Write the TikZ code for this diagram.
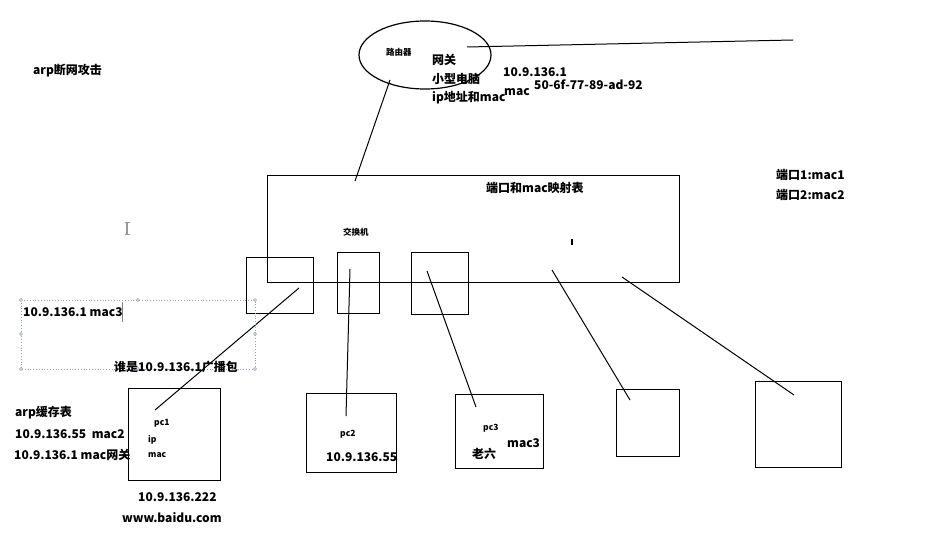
\documentclass[tikz,border=0pt]{standalone}
\usepackage{fontspec}
\setmainfont{Noto Sans CJK SC}
\usetikzlibrary{shapes.geometric}
\begin{document}
\begin{tikzpicture}[x=1pt,y=-1pt,
  box/.style={draw, line width=1.2pt, inner sep=0pt, anchor=north west},
  wire/.style={line width=1pt},
  lbl/.style={anchor=west, inner sep=0pt, font=\fontsize{12}{14}\selectfont\bfseries},
  sml/.style={anchor=west, inner sep=0pt, font=\fontsize{8.5}{10}\selectfont\bfseries},
  sel/.style={draw={rgb,255:red,140;green,165;blue,195}, dotted, line width=0.8pt},
  handle/.style={circle, draw={rgb,255:red,140;green,150;blue,170}, fill=white, line width=0.5pt, inner sep=0pt, minimum size=3pt}]
\useasboundingbox (0,0) rectangle (944,535);

% router
\node (router) [draw, ellipse, line width=1.2pt, minimum width=132pt, minimum height=68pt] at (425,55) {};
\node (rlbl) [sml] at (386,52) {路由器};
\coordinate (r1) at (467,47);
\coordinate (r2) at (793,40);
\draw[wire] (r1) -- (r2);
\node (gw1) [lbl] at (432,60) {网关};
\node (gw2) [lbl] at (432,79) {小型电脑};
\node (gw3) [lbl] at (432,98) {ip地址和mac};
\node (gwip) [lbl] at (503,72) {10.9.136.1};
\node (gwmac) [lbl] at (534,85) {50-6f-77-89-ad-92};
\node (gwm) [lbl] at (504,92) {mac};

\node (title) [lbl] at (33,71) {arp断网攻击};

% switch
\node (sw) [box, minimum width=412pt, minimum height=107pt] at (267,175) {};
\node (swt) [lbl] at (486,188) {端口和mac映射表};
\node (swl) [sml] at (343,232) {交换机};
\fill (571,239) rectangle (573,245);
\coordinate (ra) at (390,80);
\coordinate (sa) at (355,181);
\draw[wire] (ra) -- (sa);

\node (map1) [lbl] at (776,175) {端口1:mac1};
\node (map2) [lbl] at (776,195) {端口2:mac2};

% ports
\node (p1) [box, minimum width=67pt, minimum height=56pt] at (246,257) {};
\node (p2) [box, minimum width=42pt, minimum height=61pt] at (337,252) {};
\node (p3) [box, minimum width=57pt, minimum height=62pt] at (411,252) {};

% pcs
\node (pc1) [box, minimum width=92pt, minimum height=92pt] at (128,388) {};
\node (pc2) [box, minimum width=90pt, minimum height=79pt] at (306,393) {};
\node (pc3) [box, minimum width=88pt, minimum height=74pt] at (455,394) {};
\node (pc4) [box, minimum width=63pt, minimum height=67pt] at (616,389) {};
\node (pc5) [box, minimum width=86pt, minimum height=86pt] at (755,381) {};

% links
\coordinate (a1) at (299,288); \coordinate (b1) at (155,410);
\coordinate (a2) at (350,269); \coordinate (b2) at (346,416);
\coordinate (a3) at (427,271); \coordinate (b3) at (476,407);
\coordinate (a4) at (552,270); \coordinate (b4) at (630,400);
\coordinate (a5) at (622,277); \coordinate (b5) at (794,395);
\draw[wire] (a1) -- (b1);
\draw[wire] (a2) -- (b2);
\draw[wire] (a3) -- (b3);
\draw[wire] (a4) -- (b4);
\draw[wire] (a5) -- (b5);

% pc texts
\node (t1) [sml] at (154,423) {pc1};
\node (t2) [sml] at (148,440) {ip};
\node (t3) [sml] at (148,455) {mac};
\node (t4) [lbl] at (138,497) {10.9.136.222};
\node (t5) [lbl] at (122,518) {www.baidu.com};
\node (t6) [sml] at (340,434) {pc2};
\node (t7) [lbl] at (326,457) {10.9.136.55};
\node (t8) [sml] at (483,428) {pc3};
\node (t9) [lbl] at (507,443) {mac3};
\node (t10) [lbl] at (472,454) {老六};

\node (c1) [lbl] at (15,413) {arp缓存表};
\node (c2) [lbl] at (15,434) {10.9.136.55\ \ mac2};
\node (c3) [lbl] at (14,455) {10.9.136.1 mac网关};

% selected text box
\draw[sel] (21,300) rectangle (255,369);
\foreach \p in {(21,300),(138,300),(255,300),(21,334),(255,334),(21,369),(138,369),(255,369)}
  \node[handle] at \p {};
\node (s1) [lbl] at (23,312) {10.9.136.1 mac3};
\draw[gray, line width=0.8pt] (122,302) -- (122,322);
\node (s2) [lbl] at (114,367) {谁是10.9.136.1广播包};

% I-beam cursor
\draw[gray!80, line width=1.2pt] (127,222) -- (127,234);
\draw[gray!80, line width=0.8pt] (124.5,222) -- (129.5,222) (124.5,234) -- (129.5,234);
\end{tikzpicture}
\end{document}
